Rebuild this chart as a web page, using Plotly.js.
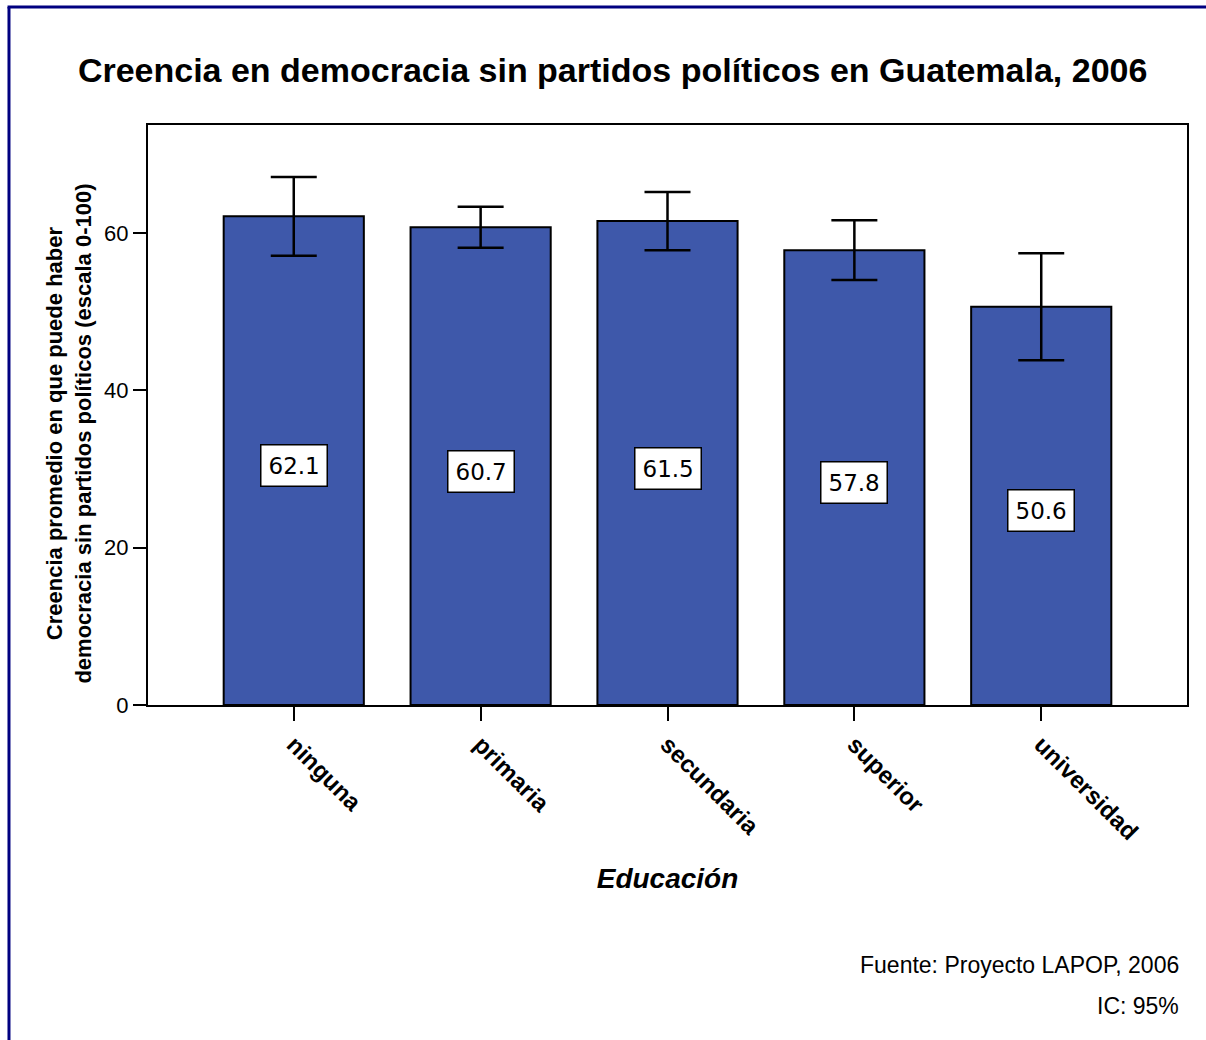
<!DOCTYPE html>
<html>
<head>
<meta charset="utf-8">
<script src="https://cdn.plot.ly/plotly-3.0.1.min.js"></script>
<style>
html,body{margin:0;padding:0;background:#fff;}
#chart{width:1206px;height:1040px;}
</style>
</head>
<body>
<div id="chart"></div>
<script>
var categories = ["ninguna", "primaria", "secundaria", "superior", "universidad"];
var means = [62.1, 60.7, 61.5, 57.8, 50.6];
var ciErrors = [5.0, 2.6, 3.7, 3.8, 6.8];
var yTicks = [0, 20, 40, 60];

var FONT = "Liberation Sans, Arial, sans-serif";

var trace = {
  type: "bar",
  x: categories,
  y: means,
  width: 0.75,
  marker: {color: "#3e58aa", line: {color: "#000", width: 2}},
  error_y: {type: "data", array: ciErrors, visible: true, color: "#000", thickness: 2.5, width: 23},
  hoverinfo: "none"
};

var annotations = categories.map(function (c, i) {
  return {
    x: c, y: means[i] / 2, xref: "x", yref: "y",
    text: means[i].toFixed(1), showarrow: false, yshift: -5,
    font: {family: "DejaVu Sans, sans-serif", size: 23, color: "#000"},
    bgcolor: "#fff", bordercolor: "#000", borderwidth: 1.5, borderpad: 7
  };
});
annotations.push({
  xref: "paper", yref: "paper", x: -0.076, y: 0.468, xanchor: "center", yanchor: "middle",
  textangle: -90, showarrow: false,
  text: "<b>Creencia promedio en que puede haber<br>democracia sin partidos políticos (escala 0-100)</b>",
  font: {family: FONT, size: 22, color: "#000"}
});
annotations.push({
  xref: "paper", yref: "paper", x: 1, y: -0.448, xanchor: "right", yanchor: "middle",
  xshift: -6, text: "Fuente: Proyecto LAPOP, 2006", showarrow: false,
  font: {family: FONT, size: 23, color: "#000"}
});
annotations.push({
  xref: "paper", yref: "paper", x: 1, y: -0.519, xanchor: "right", yanchor: "middle",
  xshift: -6, text: "IC: 95%", showarrow: false,
  font: {family: FONT, size: 23, color: "#000"}
});

var layout = {
  width: 1206, height: 1040,
  margin: {l: 148, r: 19, t: 125, b: 335},
  paper_bgcolor: "#fff", plot_bgcolor: "#fff",
  showlegend: false,
  title: {
    text: "<b>Creencia en democracia sin partidos políticos en Guatemala, 2006</b>",
    font: {family: FONT, size: 34, color: "#000"},
    x: 0.508, xref: "container", xanchor: "center", y: 0.933, yanchor: "middle"
  },
  xaxis: {
    type: "category",
    range: [-0.78, 4.78],
    tickangle: 45,
    ticks: "outside", ticklen: 14, tickwidth: 2, tickcolor: "#000",
    tickfont: {family: FONT, size: 24, color: "#000", weight: "bold"},
    showline: true, linecolor: "#000", linewidth: 2, mirror: true,
    showgrid: false, zeroline: false,
    title: {text: "<b><i>Educación</i></b>", font: {family: FONT, size: 28, color: "#000"}, standoff: 24}
  },
  yaxis: {
    range: [0, 73.7],
    tickvals: yTicks,
    ticks: "outside", ticklen: 13, tickwidth: 2, tickcolor: "#000",
    tickfont: {family: FONT, size: 22, color: "#000"},
    showline: true, linecolor: "#000", linewidth: 2, mirror: true,
    showgrid: false, zeroline: false
  },
  annotations: annotations,
  shapes: [
    {type: "line", xref: "paper", yref: "paper", x0: -0.1338, x1: -0.1338, y0: 1.2034, y1: -0.58,
     line: {color: "#000080", width: 3}},
    {type: "line", xref: "paper", yref: "paper", x0: -0.1352, x1: 1.02, y0: 1.2034, y1: 1.2034,
     line: {color: "#000080", width: 3}}
  ]
};

Plotly.newPlot("chart", [trace], layout, {displayModeBar: false, staticPlot: true});
</script>
</body>
</html>
